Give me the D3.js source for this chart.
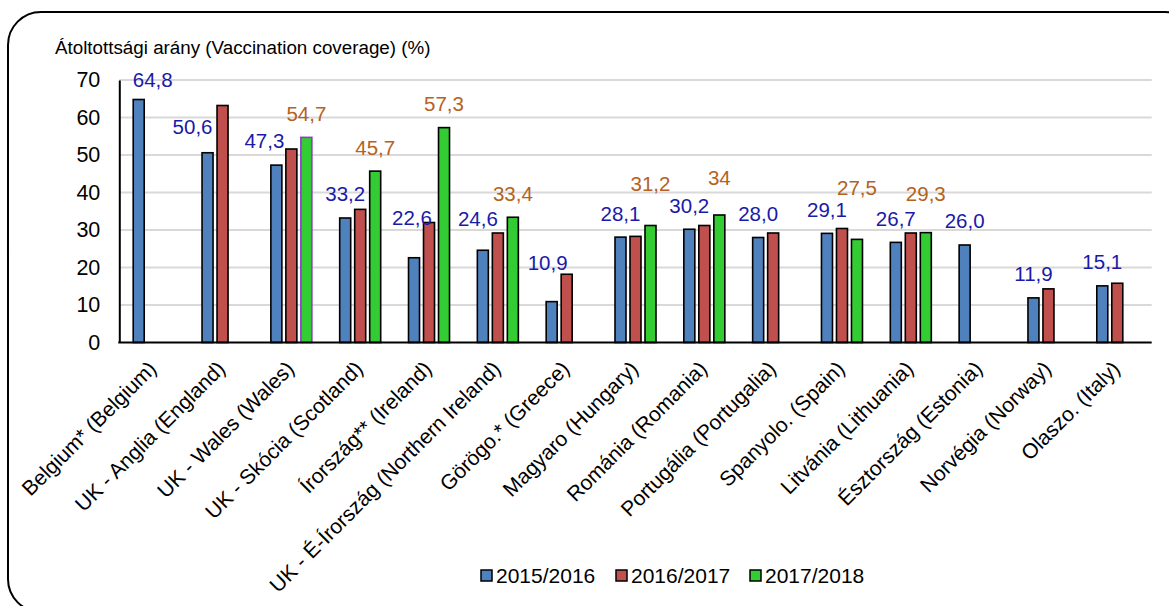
<!DOCTYPE html>
<html>
<head>
<meta charset="utf-8">
<script src="https://cdn.jsdelivr.net/npm/d3@7"></script>
<style>
  html, body { margin: 0; padding: 0; background: #fff; }
  svg { display: block; font-family: "Liberation Sans", Arial, sans-serif; }
</style>
</head>
<body>
<svg id="chart" width="1169" height="606"></svg>
<script>
// ---- Data ----
const categories = [
  "Belgium* (Belgium)", "UK - Anglia (England)", "UK - Wales (Wales)", "UK - Skócia (Scotland)",
  "Írország** (Ireland)", "UK - É-Írország (Northern Ireland)", "Görögo.* (Greece)", "Magyaro (Hungary)",
  "Románia (Romania)", "Portugália (Portugalia)", "Spanyolo. (Spain)", "Litvánia (Lithuania)",
  "Észtország (Estonia)", "Norvégia (Norway)", "Olaszo. (Italy)"
];
const seriesNames = ["2015/2016", "2016/2017", "2017/2018"];
const values2015 = [64.8, 50.6, 47.3, 33.2, 22.6, 24.6, 10.9, 28.1, 30.2, 28.0, 29.1, 26.7, 26.0, 11.9, 15.1];
const values2016 = [null, 63.2, 51.6, 35.5, 32.0, 29.2, 18.2, 28.3, 31.2, 29.2, 30.4, 29.2, null, 14.3, 15.8];
const values2017 = [null, null, 54.7, 45.7, 57.3, 33.4, null, 31.2, 34, null, 27.5, 29.3, null, null, null];
const yTicks = [0, 10, 20, 30, 40, 50, 60, 70];
const axisTitle = "Átoltottsági arány (Vaccination coverage) (%)";

// ---- Styling / layout (kept apart from data) ----
const colors = ["#4f81bd", "#c0504d", "#33cc33"];
const labelColors = { s0: "#1a1aa8", s2: "#b5621e" };
// manual label nudges [dx, dy] per category (as in the original, some labels were moved)
const nudge2015 = [[14,4],[-15,-2],[-12,-1],[0,0],[-2,-16],[-5,-8],[-4,-15],[0,0],[0,0],[0,0],[0,0],[0,0],[0,0],[0,0],[0,0]];
const nudge2017 = [[0,0],[0,0],[0,0],[0,0],[0,0],[0,0],[0,0],[0,-18],[0,-13],[0,0],[0,-28],[0,-15],[0,0],[0,0],[0,0]];

const svg = d3.select("#chart");
const plot = { left: 119.3, right: 1151.7, top: 80, bottom: 342.5 };

// frame
svg.append("rect")
  .attr("x", 8).attr("y", 12).attr("width", 1190).attr("height", 600)
  .attr("rx", 33).attr("ry", 33)
  .attr("fill", "none").attr("stroke", "#000").attr("stroke-width", 2);

const x = d3.scaleBand().domain(categories).range([plot.left, plot.right]).padding(0);
const xs = d3.scaleBand().domain(seriesNames).range([-21, 21]).paddingInner(0.2);
const y = d3.scaleLinear().domain([0, 70]).range([plot.bottom, plot.top]);

// gridlines
svg.append("g").selectAll("line").data(yTicks.filter(t => t > 0)).join("line")
  .attr("x1", plot.left).attr("x2", plot.right)
  .attr("y1", d => y(d)).attr("y2", d => y(d))
  .attr("stroke", "#d9d9d9").attr("stroke-width", 2);

// y axis
const yAxis = d3.axisLeft(y).tickValues(yTicks).tickSize(0).tickPadding(19).tickFormat(d3.format("d"));
const gy = svg.append("g").attr("transform", `translate(${plot.left},0)`).call(yAxis);
gy.select(".domain").attr("stroke", "#000").attr("stroke-width", 2);
gy.selectAll("text").attr("font-size", 21.5).attr("fill", "#000")
  .attr("font-family", "Liberation Sans, Arial, sans-serif");

// axis title
svg.append("text").attr("x", 55).attr("y", 54)
  .attr("font-size", 18.8).attr("fill", "#000").text(axisTitle);

// bars
const allSeries = [values2015, values2016, values2017];
const barData = [];
allSeries.forEach((vals, si) => {
  vals.forEach((v, ci) => {
    if (v !== null) barData.push({ cat: categories[ci], ci, si, v });
  });
});
const bw = xs.bandwidth();
svg.append("g").selectAll("rect").data(barData).join("rect")
  .attr("x", d => x(d.cat) + x.bandwidth() / 2 + xs(seriesNames[d.si]) + 0.5)
  .attr("width", bw - 1)
  .attr("y", d => y(d.v))
  .attr("height", d => y(0) - y(d.v))
  .attr("fill", d => colors[d.si])
  .attr("stroke", d => (d.si === 2 && d.ci === 2) ? "#8a3fc0" : "#000")
  .attr("stroke-width", 1.6);

// x axis baseline
svg.append("line")
  .attr("x1", plot.left - 1).attr("x2", plot.right)
  .attr("y1", y(0)).attr("y2", y(0))
  .attr("stroke", "#000").attr("stroke-width", 2.2);

// data labels
function barCenter(ci, si) {
  return x(categories[ci]) + x.bandwidth() / 2 + xs(seriesNames[si]) + bw / 2;
}
const fmt1 = v => d3.format(".1f")(v).replace(".", ",");
const fmtG = v => String(v).replace(".", ",");
const lab = svg.append("g").attr("font-size", 20.5).attr("text-anchor", "middle");
values2015.forEach((v, ci) => {
  if (v === null) return;
  lab.append("text")
    .attr("x", barCenter(ci, 0) + nudge2015[ci][0])
    .attr("y", y(v) - 24 + nudge2015[ci][1])
    .attr("dy", "0.36em")
    .attr("fill", labelColors.s0)
    .text(fmt1(v));
});
values2017.forEach((v, ci) => {
  if (v === null) return;
  lab.append("text")
    .attr("x", barCenter(ci, 2) + nudge2017[ci][0])
    .attr("y", y(v) - 24 + nudge2017[ci][1])
    .attr("dy", "0.36em")
    .attr("fill", labelColors.s2)
    .text(fmtG(v));
});

// category labels (rotated)
svg.append("g").selectAll("text").data(categories).join("text")
  .attr("transform", d => `translate(${x(d) + x.bandwidth() / 2 + 4},370) rotate(-45)`)
  .attr("text-anchor", "end")
  .attr("font-size", 21)
  .attr("fill", "#000")
  .text(d => d);

// legend
const legend = svg.append("g");
const legX = [481, 616, 750];
seriesNames.forEach((s, i) => {
  legend.append("rect")
    .attr("x", legX[i]).attr("y", 570).attr("width", 11).attr("height", 11)
    .attr("fill", colors[i]).attr("stroke", "#000").attr("stroke-width", 1.5);
  legend.append("text")
    .attr("x", legX[i] + 15).attr("y", 583)
    .attr("font-size", 21).attr("fill", "#000").text(s);
});
</script>
</body>
</html>
